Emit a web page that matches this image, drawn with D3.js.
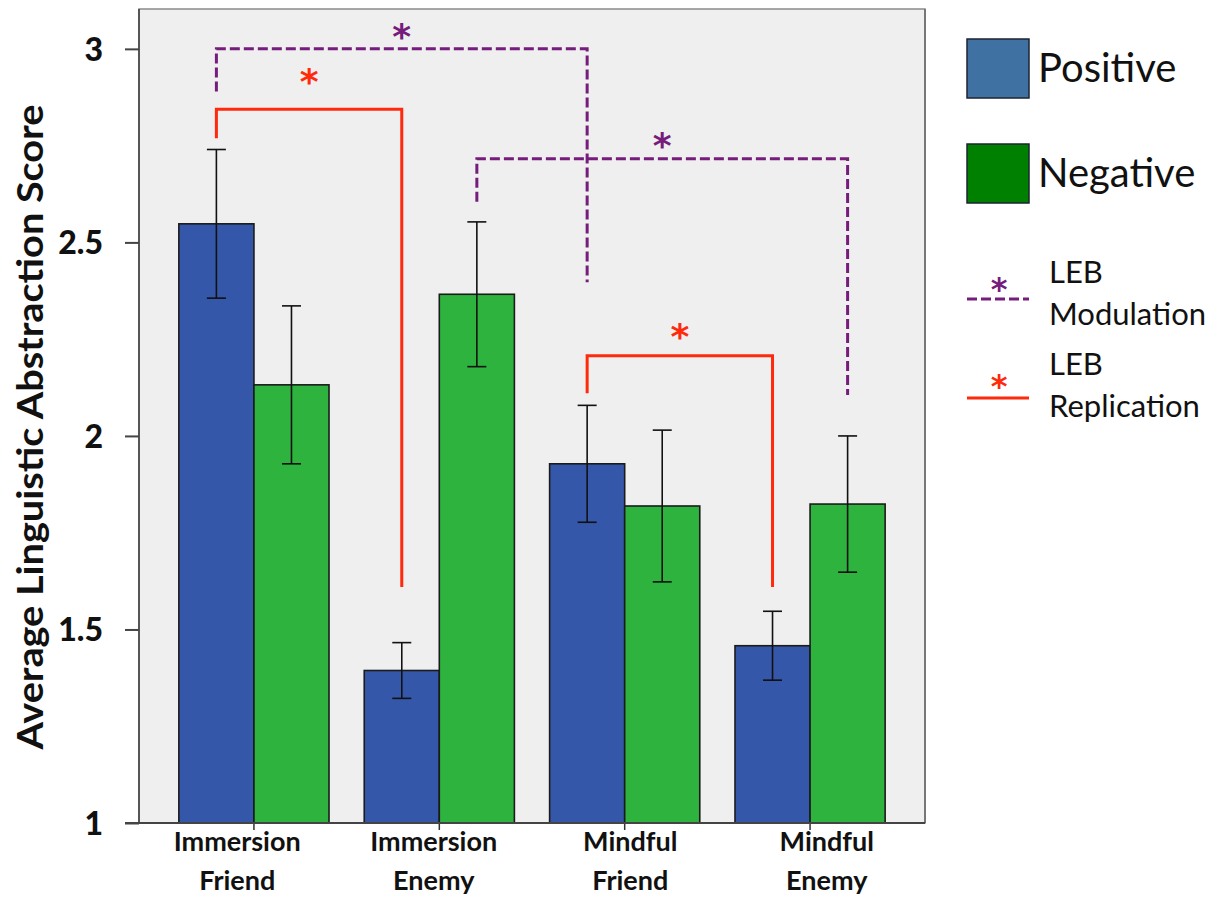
<!DOCTYPE html>
<html>
<head>
<meta charset="utf-8">
<script src="https://cdn.jsdelivr.net/npm/d3@7"></script>
<style>
  body { margin: 0; background: #fff; }
</style>
</head>
<body>
<div id="chart"></div>
<script>
// data
const categories = ["Immersion Friend", "Immersion Enemy", "Mindful Friend", "Mindful Enemy"];
const series = ["Positive", "Negative"];
const positive = [2.548, 1.394, 1.928, 1.458];
const positiveErr = [0.192, 0.072, 0.151, 0.089];
const negative = [2.132, 2.366, 1.819, 1.824];
const negativeErr = [0.204, 0.187, 0.196, 0.176];
const yTicks = [1, 1.5, 2, 2.5, 3];

// significance brackets: bar pairs, foot / top levels in score units
const brackets = [
  { kind: "mod", from: [0, "Positive"], to: [2, "Positive"], left: 2.890, top: 3.000, right: 2.397, star: 3.051 },
  { kind: "rep", from: [0, "Positive"], to: [1, "Positive"], left: 2.769, top: 2.844, right: 1.610, star: 2.935 },
  { kind: "mod", from: [1, "Negative"], to: [3, "Negative"], left: 2.605, top: 2.716, right: 2.106, star: 2.769 },
  { kind: "rep", from: [2, "Positive"], to: [3, "Positive"], left: 2.110, top: 2.207, right: 1.610, star: 2.276 }
];

const width = 1222, height = 897;
const plot = { left: 139, right: 925, top: 9, bottom: 823 };
const barColor = { Positive: "#3557a9", Negative: "#2eb33e" };
const legendColor = { Positive: "#3f72a2", Negative: "#008000" };
const markColor = { mod: "#761c7c", rep: "#ff2a0c" };
const font = "Lato, 'Open Sans', sans-serif";
const starFont = "'DejaVu Sans', sans-serif";

const svg = d3.select("#chart").append("svg")
  .attr("width", width).attr("height", height)
  .attr("viewBox", `0 0 ${width} ${height}`);

const rows = categories.map((c, i) => ({
  cat: c,
  bars: [
    { s: "Positive", v: positive[i], e: positiveErr[i] },
    { s: "Negative", v: negative[i], e: negativeErr[i] }
  ]
}));

// scales
const x0 = d3.scaleBand().domain(categories).range([plot.left, plot.right])
  .paddingInner(0.19).paddingOuter(0.215);
const x1 = d3.scaleBand().domain(series).range([0, x0.bandwidth()]);
const xLabel = d3.scaleBand().domain(categories).range([plot.left, plot.right]);
const y = d3.scaleLinear().domain([1, 3.103]).range([plot.bottom, plot.top]);

const barMid = (i, s) => x0(categories[i]) + x1(s) + x1.bandwidth() / 2;

// plot background
svg.append("rect")
  .attr("x", plot.left).attr("y", plot.top)
  .attr("width", plot.right - plot.left).attr("height", plot.bottom - plot.top)
  .attr("fill", "#efefef").attr("stroke", "#8a8a8a").attr("stroke-width", 1.5);
svg.append("line")
  .attr("x1", plot.left).attr("x2", plot.left).attr("y1", plot.top).attr("y2", plot.bottom)
  .attr("stroke", "#555").attr("stroke-width", 2);
svg.append("line")
  .attr("x1", plot.right).attr("x2", plot.right).attr("y1", plot.top).attr("y2", plot.bottom)
  .attr("stroke", "#777").attr("stroke-width", 2);

// bars
const groups = svg.selectAll(".grp").data(rows).enter().append("g")
  .attr("transform", d => `translate(${x0(d.cat)},0)`);

groups.selectAll("rect").data(d => d.bars).enter().append("rect")
  .attr("x", d => x1(d.s))
  .attr("y", d => y(d.v))
  .attr("width", x1.bandwidth())
  .attr("height", d => y(1) - y(d.v))
  .attr("fill", d => barColor[d.s])
  .attr("stroke", "#1b1b1b")
  .attr("stroke-width", 1.6);

// error bars
const err = groups.selectAll(".err").data(d => d.bars).enter().append("g")
  .attr("stroke", "#111").attr("stroke-width", 1.6);
err.append("line")
  .attr("x1", d => x1(d.s) + x1.bandwidth() / 2).attr("x2", d => x1(d.s) + x1.bandwidth() / 2)
  .attr("y1", d => y(d.v + d.e)).attr("y2", d => y(d.v - d.e));
err.append("line")
  .attr("x1", d => x1(d.s) + x1.bandwidth() / 2 - 9.5).attr("x2", d => x1(d.s) + x1.bandwidth() / 2 + 9.5)
  .attr("y1", d => y(d.v + d.e)).attr("y2", d => y(d.v + d.e));
err.append("line")
  .attr("x1", d => x1(d.s) + x1.bandwidth() / 2 - 9.5).attr("x2", d => x1(d.s) + x1.bandwidth() / 2 + 9.5)
  .attr("y1", d => y(d.v - d.e)).attr("y2", d => y(d.v - d.e));

// y axis
const yAxis = svg.append("g").attr("transform", `translate(${plot.left},0)`)
  .call(d3.axisLeft(y).tickValues(yTicks).tickSize(14).tickPadding(22).tickFormat(d3.format("")));
yAxis.select(".domain").remove();
yAxis.selectAll(".tick line").attr("stroke", "#444").attr("stroke-width", 2);
yAxis.selectAll(".tick text")
  .attr("fill", "#111").style("font-family", font).style("font-weight", "900").style("font-size", "32px")
  .attr("dy", "0.36em");

// x axis
const xAxis = svg.append("g").attr("transform", `translate(0,${plot.bottom})`)
  .call(d3.axisBottom(x0).tickSize(7).tickSizeOuter(0).tickFormat(""));
xAxis.select(".domain").remove();
xAxis.selectAll(".tick line").attr("stroke", "#333").attr("stroke-width", 1.5);
svg.append("line")
  .attr("x1", plot.left - 14).attr("x2", plot.right).attr("y1", plot.bottom).attr("y2", plot.bottom)
  .attr("stroke", "#444").attr("stroke-width", 2);

const xText = svg.append("g").selectAll("text").data(categories).enter().append("text")
  .attr("text-anchor", "middle")
  .attr("fill", "#111").style("font-family", font).style("font-weight", "bold").style("font-size", "27px");
xText.each(function (d) {
  const parts = d.split(" ");
  const t = d3.select(this);
  parts.forEach((p, k) => {
    t.append("tspan").attr("x", xLabel(d) + xLabel.bandwidth() / 2)
      .attr("y", plot.bottom + 28 + k * 39).text(p);
  });
});

// y title
svg.append("text")
  .attr("transform", `translate(43,${(plot.top + plot.bottom) / 2 + 11}) rotate(-90)`)
  .attr("text-anchor", "middle")
  .attr("textLength", 645).attr("lengthAdjust", "spacingAndGlyphs")
  .attr("fill", "#111").style("font-family", font).style("font-weight", "bold").style("font-size", "36px")
  .text("Average Linguistic Abstraction Score");

// significance brackets
const bg = svg.append("g");
brackets.forEach(b => {
  const xl = barMid(b.from[0], b.from[1]);
  const xr = barMid(b.to[0], b.to[1]);
  bg.append("path")
    .attr("d", d3.line()([[xl, y(b.left)], [xl, y(b.top)], [xr, y(b.top)], [xr, y(b.right)]]))
    .attr("fill", "none")
    .attr("stroke", markColor[b.kind])
    .attr("stroke-width", 3)
    .attr("stroke-dasharray", b.kind === "mod" ? "10,4" : null);
  bg.append("text")
    .attr("x", (xl + xr) / 2).attr("y", y(b.star) + 20)
    .attr("text-anchor", "middle")
    .attr("fill", markColor[b.kind])
    .style("font-family", starFont).style("font-weight", "bold").style("font-size", "36px")
    .text("*");
});

// legend
const lg = svg.append("g");
series.forEach((s, i) => {
  const top = 39 + i * 105;
  lg.append("rect").attr("x", 967).attr("y", top).attr("width", 62).attr("height", 59)
    .attr("fill", legendColor[s]).attr("stroke", "#1d2430").attr("stroke-width", 1.5);
  lg.append("text").attr("x", 1038).attr("y", top + 43)
    .attr("fill", "#111").style("font-family", font).style("font-size", "40px").text(s);
});
[
  { kind: "mod", lines: ["LEB", "Modulation"], ly: 299, star: 282, base: 283 },
  { kind: "rep", lines: ["LEB", "Replication"], ly: 398, star: 379, base: 375 }
].forEach(d => {
  lg.append("line").attr("x1", 967).attr("x2", 1029).attr("y1", d.ly).attr("y2", d.ly)
    .attr("stroke", markColor[d.kind]).attr("stroke-width", 3)
    .attr("stroke-dasharray", d.kind === "mod" ? "10,4" : null);
  lg.append("text").attr("x", 999).attr("y", d.star + 18)
    .attr("text-anchor", "middle").attr("fill", markColor[d.kind])
    .style("font-family", starFont).style("font-weight", "bold").style("font-size", "32px").text("*");
  const t = lg.append("text").attr("fill", "#111").style("font-family", font).style("font-size", "31px");
  d.lines.forEach((l, k) => t.append("tspan").attr("x", 1049).attr("y", d.base + k * 42).text(l));
});
</script>
</body>
</html>
